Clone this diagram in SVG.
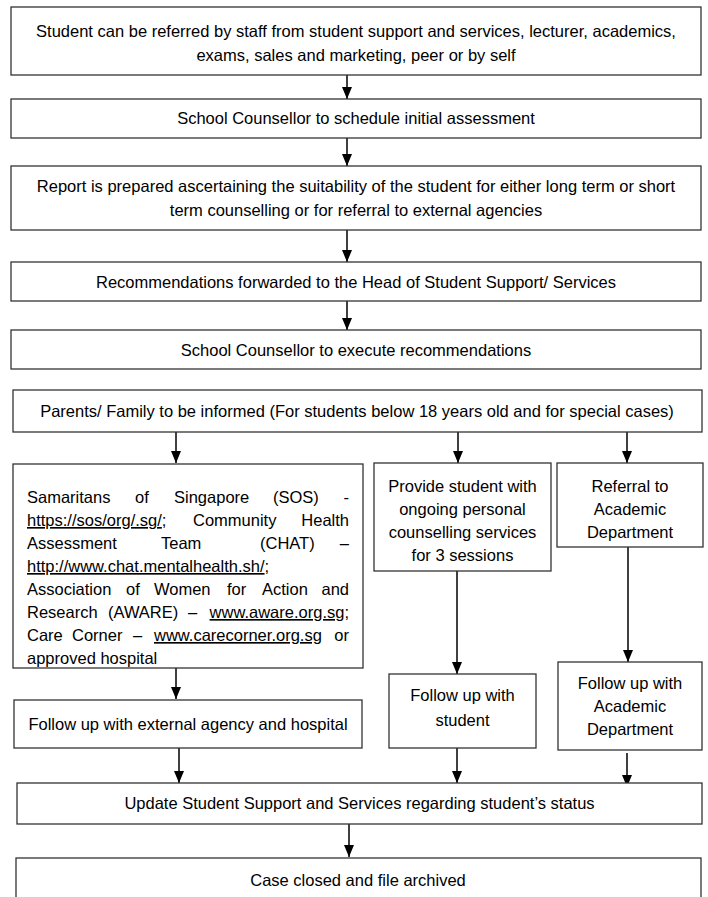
<svg xmlns="http://www.w3.org/2000/svg" width="708" height="897" viewBox="0 0 708 897">
<style>
.box{fill:#fff;stroke:#333;stroke-width:1.3}
text{font-family:"Liberation Sans",Arial,sans-serif;font-size:16.5px;fill:#000}
.c{text-anchor:middle}
.e{text-anchor:end}
.u{text-decoration:underline}
.conn line{stroke:#000;stroke-width:1.5}
</style>
<defs>
<marker id="ah" viewBox="0 0 10 12" refX="5" refY="12" markerWidth="10" markerHeight="12" markerUnits="userSpaceOnUse" orient="auto-start-reverse">
<path d="M0,0 L10,0 L5,12 Z" fill="#000" transform="rotate(0)"/>
</marker>
</defs>
<rect width="708" height="897" fill="#fff"/>

<g class="conn">
<path d="M347,75 V99" stroke="#000" stroke-width="1.5" fill="none"/>
<path d="M347,138 V166" stroke="#000" stroke-width="1.5" fill="none"/>
<path d="M347,230 V262" stroke="#000" stroke-width="1.5" fill="none"/>
<path d="M347,301 V330" stroke="#000" stroke-width="1.5" fill="none"/>
<path d="M176,432 V463" stroke="#000" stroke-width="1.5" fill="none"/>
<path d="M458,432 V463" stroke="#000" stroke-width="1.5" fill="none"/>
<path d="M627,430 V463" stroke="#000" stroke-width="1.5" fill="none"/>
<path d="M176,666 V699" stroke="#000" stroke-width="1.5" fill="none"/>
<path d="M457,571 V674" stroke="#000" stroke-width="1.5" fill="none"/>
<path d="M628,547 V662" stroke="#000" stroke-width="1.5" fill="none"/>
<path d="M179,746 V783" stroke="#000" stroke-width="1.5" fill="none"/>
<path d="M457,747 V783" stroke="#000" stroke-width="1.5" fill="none"/>
<path d="M627,753 V787" stroke="#000" stroke-width="1.5" fill="none"/>
<path d="M349,824 V857" stroke="#000" stroke-width="1.5" fill="none"/>
</g>
<g id="heads" fill="#000">
<path d="M342,87 H352 L347,99 Z"/>
<path d="M342,154 H352 L347,166 Z"/>
<path d="M342,250 H352 L347,262 Z"/>
<path d="M342,318 H352 L347,330 Z"/>
<path d="M171,451 H181 L176,463 Z"/>
<path d="M453,451 H463 L458,463 Z"/>
<path d="M622,451 H632 L627,463 Z"/>
<path d="M171,687 H181 L176,699 Z"/>
<path d="M452,662 H462 L457,674 Z"/>
<path d="M623,650 H633 L628,662 Z"/>
<path d="M174,771 H184 L179,783 Z"/>
<path d="M452,771 H462 L457,783 Z"/>
<path d="M622,775 H632 L627,787 Z"/>
<path d="M344,845 H354 L349,857 Z"/>
</g>

<g id="n1">
<rect class="box" x="11" y="7" width="690" height="68"/>
<text class="c" x="356" y="37">Student can be referred by staff from student support and services, lecturer, academics,</text>
<text class="c" x="356" y="61">exams, sales and marketing, peer or by self</text>
</g>
<g id="n2">
<rect class="box" x="11" y="99" width="690" height="39"/>
<text class="c" x="356" y="124">School Counsellor to schedule initial assessment</text>
</g>
<g id="n3">
<rect class="box" x="11" y="166" width="690" height="64"/>
<text class="c" x="356" y="192">Report is prepared ascertaining the suitability of the student for either long term or short</text>
<text class="c" x="356" y="216">term counselling or for referral to external agencies</text>
</g>
<g id="n4">
<rect class="box" x="11" y="262" width="690" height="39"/>
<text class="c" x="356" y="288">Recommendations forwarded to the Head of Student Support/ Services</text>
</g>
<g id="n5">
<rect class="box" x="11" y="330" width="690" height="39"/>
<text class="c" x="356" y="356">School Counsellor to execute recommendations</text>
</g>
<g id="n6">
<rect class="box" x="13" y="390" width="689" height="42"/>
<text class="c" x="357" y="417">Parents/ Family to be informed (For students below 18 years old and for special cases)</text>
</g>
<g id="n7">
<rect class="box" x="13" y="464" width="350" height="204"/>
<text x="27" y="503">Samaritans</text><text x="135" y="503">of</text><text x="174" y="503">Singapore</text><text x="273" y="503">(SOS)</text><text class="e" x="349" y="503">-</text>
<text x="27" y="526"><tspan class="u">https://sos/org/.sg/</tspan>;</text><text x="193" y="526">Community</text><text class="e" x="349" y="526">Health</text>
<text x="27" y="549">Assessment</text><text x="161" y="549">Team</text><text x="260" y="549">(CHAT)</text><text class="e" x="349" y="549">–</text>
<text x="27" y="572"><tspan class="u">http://www.chat.mentalhealth.sh/</tspan>;</text>
<text x="27" y="595">Association</text><text x="126" y="595">of</text><text x="154" y="595">Women</text><text x="227" y="595">for</text><text x="262" y="595">Action</text><text class="e" x="349" y="595">and</text>
<text x="27" y="618">Research</text><text x="108" y="618">(AWARE)</text><text x="188" y="618">–</text><text class="e" x="349" y="618"><tspan class="u">www.aware.org.sg</tspan>;</text>
<text x="27" y="641">Care</text><text x="72" y="641">Corner</text><text x="133" y="641">–</text><text class="u" x="154" y="641">www.carecorner.org.sg</text><text class="e" x="349" y="641">or</text>
<text x="27" y="664">approved hospital</text>
</g>
<g id="n8">
<rect class="box" x="374" y="463" width="177" height="108"/>
<text class="c" x="462.5" y="492">Provide student with</text>
<text class="c" x="462.5" y="515">ongoing personal</text>
<text class="c" x="462.5" y="538">counselling services</text>
<text class="c" x="462.5" y="561">for 3 sessions</text>
</g>
<g id="n9">
<rect class="box" x="557" y="463" width="146" height="84"/>
<text class="c" x="630" y="492">Referral to</text>
<text class="c" x="630" y="515">Academic</text>
<text class="c" x="630" y="538">Department</text>
</g>
<g id="n10">
<rect class="box" x="14" y="700" width="348" height="48"/>
<text class="c" x="188" y="730">Follow up with external agency and hospital</text>
</g>
<g id="n11">
<rect class="box" x="389" y="674" width="147" height="74"/>
<text class="c" x="462.5" y="701">Follow up with</text>
<text class="c" x="462.5" y="726">student</text>
</g>
<g id="n12">
<rect class="box" x="558" y="662" width="144" height="88"/>
<text class="c" x="630" y="689">Follow up with</text>
<text class="c" x="630" y="712">Academic</text>
<text class="c" x="630" y="735">Department</text>
</g>
<g id="n13">
<rect class="box" x="17" y="783" width="685" height="41"/>
<text class="c" x="359.5" y="809">Update Student Support and Services regarding student’s status</text>
</g>
<g id="n14">
<rect class="box" x="16" y="858" width="685" height="60"/>
<text class="c" x="358" y="886">Case closed and file archived</text>
</g>
</svg>
